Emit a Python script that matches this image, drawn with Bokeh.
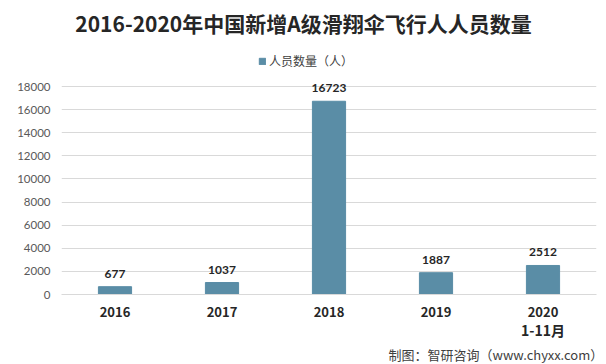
from bokeh.plotting import figure
from bokeh.models import (ColumnDataSource, LabelSet, Label, Legend, LegendItem, Range1d,
                          FixedTicker, LinearAxis, Title)
from bokeh.core.properties import value
from bokeh.embed import file_html
from bokeh.resources import INLINE

categories = ["2016", "2017", "2018", "2019", "2020"]
sub_labels = ["", "", "", "", "1-11月"]
values = [677, 1037, 16723, 1887, 2512]
y_ticks = [0, 2000, 4000, 6000, 8000, 10000, 12000, 14000, 16000, 18000]

FONT = "Noto Sans CJK SC"
NUM_FONT = "Lato"
BAR = "#5a8da6"

# category centres on a numeric axis: slot i is centred at i + 0.5
xpos = [i + 0.5 for i in range(len(categories))]

# frame: top at canvas top, bottom at 294 px; 18000 sits 208 px above the bottom
FRAME_H = 294
Y_TOP = 18000 * FRAME_H / 208.0

src = ColumnDataSource(dict(x=xpos, val=values, txt=[str(v) for v in values]))

p = figure(x_range=Range1d(0, len(categories)), y_range=Range1d(0, Y_TOP),
           width=606, height=364, output_backend="svg", toolbar_location=None,
           x_axis_type=None,
           min_border_left=61, min_border_right=10, min_border_top=0, min_border_bottom=70)
p.outline_line_color = None
p.background_fill_color = "white"
p.border_fill_color = "white"

r = p.vbar(x="x", top="val", width=0.31, source=src, color=BAR)

p.xgrid.grid_line_color = None
p.ygrid.grid_line_color = "#d9d9d9"
p.ygrid.grid_line_width = 1
p.ygrid.ticker = FixedTicker(ticks=y_ticks)

p.yaxis.ticker = FixedTicker(ticks=y_ticks)
p.yaxis.axis_line_color = None
p.yaxis.major_tick_line_color = None
p.yaxis.minor_tick_line_color = None
p.yaxis.major_tick_out = 0
p.yaxis.major_tick_in = 0
p.yaxis.major_label_text_font = NUM_FONT
p.yaxis.major_label_text_font_size = "11.5px"
p.yaxis.major_label_text_color = "#595959"
p.yaxis.major_label_standoff = 11


def overrides(labels):
    d = {}
    for k, t in zip(xpos, labels):
        d[k] = t if t else " "
        d[str(k)] = t if t else " "
    return d


xaxis = LinearAxis(ticker=FixedTicker(ticks=xpos),
                   axis_line_color="#d9d9d9", major_tick_line_color=None,
                   minor_tick_line_color=None, major_tick_out=0, major_tick_in=0,
                   minor_tick_out=0, minor_tick_in=0, major_label_standoff=12,
                   major_label_text_font=FONT, major_label_text_font_size="13px",
                   major_label_text_font_style="bold", major_label_text_color="#262626",
                   major_label_overrides=overrides(categories))
p.add_layout(xaxis, "below")

sub_ticks = [k for k, t in zip(xpos, sub_labels) if t]
sub = LinearAxis(ticker=FixedTicker(ticks=sub_ticks),
                 axis_line_color=None, major_tick_line_color=None,
                 minor_tick_line_color=None, major_tick_out=0, major_tick_in=0,
                 minor_tick_out=0, minor_tick_in=0, major_label_standoff=0,
                 major_label_text_font=FONT, major_label_text_font_size="14px",
                 major_label_text_font_style="bold", major_label_text_color="#262626",
                 major_label_overrides=overrides(sub_labels))
p.add_layout(sub, "below")

labels = LabelSet(x="x", y="val", text="txt", source=src, y_offset=13,
                  text_align="center", text_baseline="middle",
                  text_font=value(NUM_FONT), text_font_size=value("12px"),
                  text_font_style=value("bold"), text_color=value("#262626"))
p.add_layout(labels)

legend = Legend(items=[LegendItem(label="人员数量（人）", renderers=[r])],
                location=(197, 225), orientation="horizontal",
                glyph_width=8, glyph_height=8, label_height=14, label_standoff=3,
                padding=0, margin=0, border_line_color=None, background_fill_alpha=0,
                label_text_font=FONT, label_text_font_size="12px", label_text_color="#404040")
p.add_layout(legend, "center")

title = Label(x=242, y=272, x_units="screen", y_units="screen",
              text="2016-2020年中国新增A级滑翔伞飞行人人员数量",
              text_align="center", text_baseline="middle",
              text_font=FONT, text_font_size="21px", text_font_style="bold",
              text_color="#262626")
p.add_layout(title)

footer = Title(text="制图：智研咨询（www.chyxx.com）", align="left", standoff=0, offset=327,
               text_font=FONT, text_font_size="13px", text_font_style="normal",
               text_color="#404040")
p.add_layout(footer, "below")

open("out.html", "w").write(file_html(p, INLINE))
